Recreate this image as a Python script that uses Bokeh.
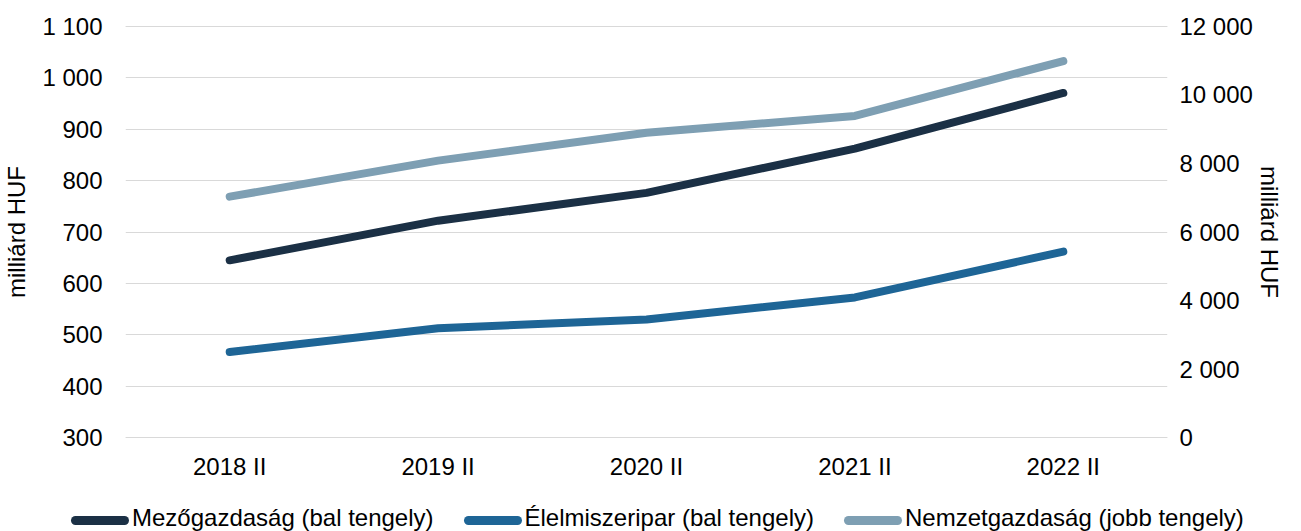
from bokeh.plotting import figure
from bokeh.layouts import column
from bokeh.models import (ColumnDataSource, FactorRange, Range1d, LinearAxis,
                          FixedTicker, CustomJSTickFormatter, Div)
from bokeh.embed import file_html
from bokeh.resources import INLINE

categories = ["2018 II", "2019 II", "2020 II", "2021 II", "2022 II"]
mezogazdasag = [645, 722, 776, 862, 970]
elelmiszeripar = [467, 513, 530, 573, 662]
nemzetgazdasag = [7030, 8080, 8890, 9380, 10980]

left_ticks = [300, 400, 500, 600, 700, 800, 900, 1000, 1100]
right_ticks = [0, 2000, 4000, 6000, 8000, 10000, 12000]

series_names = ["Mezőgazdaság (bal tengely)", "Élelmiszeripar (bal tengely)",
                "Nemzetgazdaság (jobb tengely)"]
colors = ["#1b3045", "#1e6596", "#7e9fb3"]

FONT = "Liberation Sans"
FS = "24px"

src = ColumnDataSource(dict(x=categories, m=mezogazdasag, e=elelmiszeripar, n=nemzetgazdasag))

p = figure(width=1285, height=486, x_range=FactorRange(*categories),
           y_range=Range1d(299, 1101), output_backend="svg", toolbar_location=None,
           min_border_left=117, min_border_right=118, min_border_top=25, min_border_bottom=48)
p.extra_y_ranges = {"right": Range1d(-15, 12015)}
p.outline_line_color = None
p.background_fill_color = "white"

fmt = CustomJSTickFormatter(code='return tick.toString().replace(/\\B(?=(\\d{3})+(?!\\d))/g, " ");')

ya = p.yaxis[0]
ya.ticker = FixedTicker(ticks=left_ticks)
ya.formatter = fmt
ya.axis_label = "milliárd HUF"

ra = LinearAxis(y_range_name="right", ticker=FixedTicker(ticks=right_ticks), formatter=fmt,
                axis_label="milliárd HUF")
p.add_layout(ra, "right")

xa = p.xaxis[0]
for ax in [ya, ra, xa]:
    ax.axis_line_color = None
    ax.major_tick_line_color = None
    ax.minor_tick_line_color = None
    ax.major_tick_out = 0
    ax.major_tick_in = 0
    ax.minor_tick_out = 0
    ax.minor_tick_in = 0
    ax.major_label_text_font = FONT
    ax.major_label_text_font_size = FS
    ax.major_label_text_color = "#000000"
    ax.axis_label_text_font = FONT
    ax.axis_label_text_font_size = FS
    ax.axis_label_text_font_style = "normal"
    ax.axis_label_text_color = "#000000"

ya.major_label_standoff = 23
ya.axis_label_standoff = 9
ra.major_label_standoff = 12
ra.axis_label_standoff = 0
xa.major_label_standoff = 14

p.xgrid.grid_line_color = None
p.ygrid.grid_line_color = "#d9d9d9"
p.ygrid.grid_line_width = 1
p.ygrid.ticker = FixedTicker(ticks=left_ticks)
p.hspan(y=[left_ticks[0], left_ticks[-1]], line_color="#d9d9d9", line_width=1)

p.line("x", "m", source=src, line_color=colors[0], line_width=8, line_cap="round", line_join="round")
p.line("x", "e", source=src, line_color=colors[1], line_width=8, line_cap="round", line_join="round")
p.line("x", "n", source=src, y_range_name="right", line_color=colors[2], line_width=8,
       line_cap="round", line_join="round")

# legend strip below the chart
items_html = ""
for i, (name, c) in enumerate(zip(series_names, colors)):
    gap = "0" if i == 0 else "30px"
    items_html += (
        f'<span style="display:inline-flex;align-items:center;margin-left:{gap};">'
        f'<span style="display:inline-block;position:relative;top:3px;width:58px;height:9px;'
        f'border-radius:4.5px;background:{c};margin-right:3px;"></span>'
        f'<span>{name}</span></span>'
    )
legend_div = Div(
    text=(f'<div style="font-family:\'{FONT}\';font-size:{FS};color:#000;line-height:28px;'
          f'white-space:nowrap;padding-left:71px;padding-top:14px;">{items_html}</div>'),
    width=1285, height=45, margin=0)

layout = column(p, legend_div, spacing=0)
open("out.html", "w").write(file_html(layout, INLINE))
